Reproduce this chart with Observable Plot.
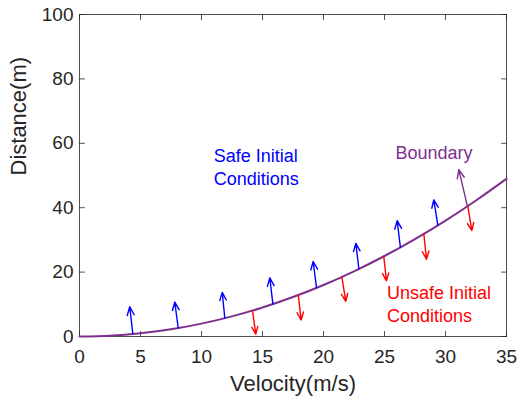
<!DOCTYPE html>
<html><head><meta charset="utf-8">
<script src="https://cdn.jsdelivr.net/npm/d3@7"></script>
<script src="https://cdn.jsdelivr.net/npm/@observablehq/plot@0.6"></script>
<style>body{margin:0;background:#fff}</style>
</head><body><div id="chart"></div>
<script>
// Boundary curve
const velocity = [0, 2.5, 5, 7.5, 10, 12.5, 15, 17.5, 20, 22.5, 25, 27.5, 30, 32.5, 35];
const boundaryDistance = [0, 0.25, 1.0, 2.25, 4.0, 6.25, 9.0, 12.25, 16.0, 20.25, 25.0, 30.25, 36.0, 42.25, 49.0];
// Safe (blue) arrows: tail on curve, head above
const safeX1 = [4.37, 8.09, 11.91, 15.85, 19.43, 22.9, 26.3, 29.37];
const safeY1 = [0.8, 2.65, 5.7, 10.05, 15.1, 21.0, 27.7, 34.6];
const safeX2 = [4.12, 7.81, 11.7, 15.6, 19.15, 22.65, 26.04, 29.04];
const safeY2 = [9.24, 10.7, 13.7, 18.2, 23.3, 28.9, 36.0, 42.4];
// Unsafe (red) arrows: tail on curve, head below
const unsafeX1 = [14.18, 17.93, 21.5, 24.94, 28.22, 31.83];
const unsafeY1 = [8.05, 12.9, 18.5, 24.9, 31.9, 40.5];
const unsafeX2 = [14.45, 18.17, 21.83, 25.16, 28.44, 32.16];
const unsafeY2 = [0.75, 5.1, 10.9, 17.3, 24.0, 32.9];
// Boundary normal arrow
const normalX1 = [31.78], normalY1 = [40.7], normalX2 = [31.09], normalY2 = [51.8];
// Ticks
const xTicks = [0, 5, 10, 15, 20, 25, 30, 35];
const yTicks = [0, 20, 40, 60, 80, 100];
// Labels
const xLabel = "Velocity(m/s)";
const yLabel = "Distance(m)";
const noteText = ["Safe Initial\nConditions", "Boundary", "Unsafe Initial\nConditions"];
const noteX = [11.0, 25.9, 25.2];
const noteY = [52.8, 57.3, 10.4];
const noteColor = ["#0000ff", "#7e2f8e", "#ff0000"];

const axisColor = "#262626";
const curve = velocity.map((v, i) => ({v, d: boundaryDistance[i]}));
const mk = (x1, y1, x2, y2) => x1.map((_, i) => ({x1: x1[i], y1: y1[i], x2: x2[i], y2: y2[i]}));
const safe = mk(safeX1, safeY1, safeX2, safeY2);
const unsafe = mk(unsafeX1, unsafeY1, unsafeX2, unsafeY2);
const normal = mk(normalX1, normalY1, normalX2, normalY2);
const notes = noteText.map((t, i) => ({t, x: noteX[i], y: noteY[i], c: noteColor[i]}));
const tickShape = {draw(context, l) { context.moveTo(0, 0); context.lineTo(0, -l); }};
const tickOpts = {length: 5, anchor: "start", shape: tickShape, stroke: axisColor, strokeWidth: 0.8};
const arrowOpts = {x1: "x1", y1: "y1", x2: "x2", y2: "y2", strokeWidth: 1.4, headLength: 10, headAngle: 45};

const chart = Plot.plot({
  width: 517, height: 401,
  marginLeft: 79, marginRight: 11, marginTop: 14, marginBottom: 65,
  style: {fontFamily: "'Liberation Sans', Arial, sans-serif", background: "#fff"},
  x: {domain: [0, 35]},
  y: {domain: [0, 100]},
  marks: [
    Plot.frame({stroke: axisColor, strokeWidth: 0.8}),
    Plot.vector(xTicks, {...tickOpts, x: d => d, y: 0, rotate: 0}),
    Plot.vector(xTicks, {...tickOpts, x: d => d, y: 100, rotate: 180}),
    Plot.vector(yTicks, {...tickOpts, y: d => d, x: 0, rotate: 90}),
    Plot.vector(yTicks, {...tickOpts, y: d => d, x: 35, rotate: -90}),
    Plot.axisX({ticks: xTicks, tickSize: 0, tickPadding: 13, fontSize: 19, label: null, color: axisColor}),
    Plot.axisY({ticks: yTicks, tickSize: 0, tickPadding: 6, fontSize: 19, label: null, color: axisColor}),
    Plot.text([xLabel], {frameAnchor: "bottom", dy: 47, text: d => d, fontSize: 22, fill: axisColor, lineAnchor: "middle"}),
    Plot.text([yLabel], {frameAnchor: "left", dx: -61, rotate: -90, text: d => d, fontSize: 22, fill: axisColor, lineAnchor: "middle"}),
    Plot.line(curve, {x: "v", y: "d", stroke: "#7e2f8e", strokeWidth: 2, curve: "natural"}),
    Plot.arrow(safe, {...arrowOpts, stroke: "#0000ff"}),
    Plot.arrow(unsafe, {...arrowOpts, stroke: "#ff0000"}),
    Plot.arrow(normal, {...arrowOpts, stroke: "#7e2f8e"}),
    Plot.text(notes, {x: "x", y: "y", text: "t", fill: "c", fontSize: 18, textAnchor: "start", lineAnchor: "middle", lineHeight: 1.27})
  ]
});
document.getElementById("chart").appendChild(chart);
</script>
</body></html>
